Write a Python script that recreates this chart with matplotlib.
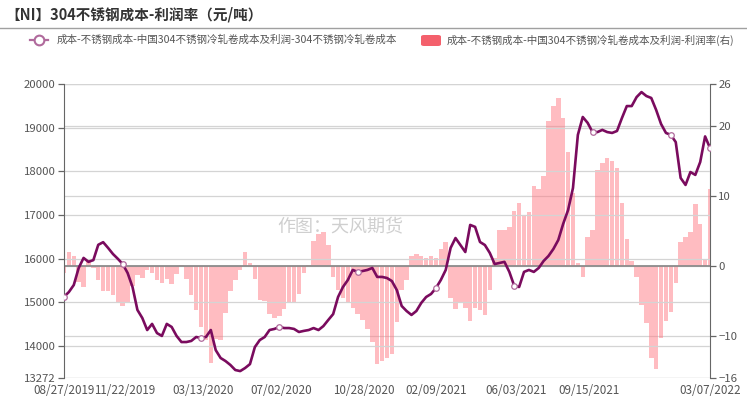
import matplotlib
matplotlib.use("Agg")
import matplotlib.pyplot as plt
from matplotlib.lines import Line2D
from matplotlib.patches import FancyBboxPatch
import pandas as pd

plt.rcParams['font.family'] = ['Noto Sans CJK SC', 'DejaVu Sans']

start_date = '2019-08-27'
end_date = '2022-03-07'

cost = [15130, 15240, 15400, 15790, 16020, 15930, 15970, 16320, 16380, 16250,
        16110, 16000, 15880, 15675, 15355, 14830, 14645, 14370, 14510, 14300,
        14235, 14510, 14440, 14235, 14095, 14095, 14120, 14210, 14190, 14210,
        14370, 13910, 13730, 13660, 13570, 13455, 13430, 13500, 13590, 13980,
        14140, 14210, 14370, 14395, 14440, 14415, 14415, 14395, 14325, 14350,
        14370, 14415, 14370, 14460, 14600, 14735, 15126, 15355, 15515, 15745,
        15700, 15720, 15745, 15790, 15585, 15585, 15560, 15490, 15285, 14920,
        14805, 14715, 14805, 14990, 15126, 15195, 15330, 15515, 15745, 16250,
        16475, 16315, 16155, 16775, 16730, 16385, 16315, 16135, 15880, 15905,
        15930, 15700, 15380, 15355, 15700, 15745, 15700, 15790, 15950, 16065,
        16225, 16430, 16800, 17115, 17620, 18835, 19245, 19110, 18900, 18900,
        18950, 18900, 18880, 18925, 19220, 19495, 19495, 19700, 19815, 19725,
        19680, 19405, 19085, 18880, 18835, 18670, 17850, 17690, 17985, 17920,
        18215, 18800, 18535]

margin = [-1, 2, 1.5, -2.3, -3, 1, -0.3, -2, -3.5, -3.5,
          -4.2, -5.3, -5.7, -5.2, -2.8, -1.3, -1.7, -0.5, -1, -2,
          -2.4, -1.9, -2.5, -1.1, 0.2, -1.9, -4.2, -6.3, -8.7, -10.6,
          -13.9, -10.4, -10.6, -6.7, -3.6, -2, -0.5, 2, 0.4, -1.8,
          -4.9, -5, -6.9, -7.4, -7.2, -6.1, -5.3, -5.2, -4, -1,
          0.2, 3.6, 4.6, 4.8, 3, -1.6, -3.4, -4.5, -5.3, -6,
          -6.8, -7.7, -9, -10.8, -14, -13.6, -13.1, -12.5, -8, -3.4,
          -2, 1.5, 1.7, 1.4, 1.2, 1.4, 1.2, 2.5, 3.5, -4.5,
          -6.1, -5.3, -6, -7.8, -6, -6.3, -7, -3.4, 1.2, 5.1,
          5.2, 5.6, 7.9, 9, 7.2, 7.7, 11.5, 11, 12.8, 20.7,
          22.8, 24, 21.2, 16.3, 10.5, 0.5, -1.5, 4.2, 5.2, 13.7,
          14.7, 15.4, 15, 14, 9, 3.8, 0.7, -1.5, -5.6, -8.2,
          -13.2, -14.7, -10.3, -7.8, -6.5, -2.4, 3.5, 4.2, 4.8, 8.8,
          6, 1, 11]

tick_dates = ['2019-08-27', '2019-11-22', '2020-03-13', '2020-07-02', '2020-10-28',
              '2021-02-09', '2021-06-03', '2021-09-15', '2022-03-07']
tick_labels = ['08/27/2019', '11/22/2019', '03/13/2020', '07/02/2020', '10/28/2020',
               '02/09/2021', '06/03/2021', '09/15/2021', '03/07/2022']
left_ticks = [13272, 14000, 15000, 16000, 17000, 18000, 19000, 20000]
right_ticks = [-16, -10, 0, 10, 20, 26]

title = '【NI】304不锈钢成本-利润率（元/吨）'
legend_line = '成本-不锈钢成本-中国304不锈钢冷轧卷成本及利润-304不锈钢冷轧卷成本'
legend_bar = '成本-不锈钢成本-中国304不锈钢冷轧卷成本及利润-利润率(右)'
watermark = '作图：天风期货'

dates = pd.date_range(start_date, end_date, periods=len(cost))

W, H = 747, 400
fig = plt.figure(figsize=(W / 100, H / 100), dpi=100)

def fx(px):
    return px / W

def fy(py):
    return 1 - py / H

ax = fig.add_axes([fx(64), fy(378), fx(710) - fx(64), fy(84) - fy(378)])
ax2 = ax.twinx()

line_color = '#7a0b5e'
bar_color = '#ff7a84'
grid_color = '#d4d4d4'
text_color = '#555555'

# bars on right axis
ax2.bar(dates, margin, width=6.4, color=bar_color, alpha=0.5, linewidth=0, zorder=2)
ax2.axhline(0, color='#8c8c8c', lw=1.3, zorder=3)
ax2.set_ylim(-16, 26)
ax2.set_yticks(right_ticks)
for t in right_ticks:
    ax2.axhline(t, color=grid_color, lw=0.9, zorder=1)

# line on left axis, drawn above bars
ax.set_zorder(ax2.get_zorder() + 1)
ax.patch.set_visible(False)
mark_idx = [0, 12, 28, 44, 60, 76, 92, 108, 124, len(cost) - 1]
ax.plot(dates, cost, color=line_color, lw=1.9, zorder=5,
        marker='o', markevery=mark_idx, markersize=4,
        markerfacecolor='white', markeredgecolor='#b06a9c', markeredgewidth=0.9)
ax.set_ylim(13272, 20000)
ax.set_yticks(left_ticks)
for t in left_ticks:
    ax.axhline(t, color=grid_color, lw=0.9, zorder=0)

ax.set_xlim(pd.Timestamp(start_date), pd.Timestamp(end_date))
ax.set_xticks(pd.to_datetime(tick_dates))
ax.set_xticklabels(tick_labels)

for a in (ax, ax2):
    for s in ('top', 'bottom'):
        a.spines[s].set_visible(False)
    a.spines['left'].set_color('#666666')
    a.spines['right'].set_color('#666666')
    a.tick_params(axis='y', colors='#666666', labelcolor=text_color,
                  labelsize=8.2, length=4, width=0.9, pad=2)
ax.spines['right'].set_visible(False)
ax2.spines['left'].set_visible(False)
ax.tick_params(axis='x', length=0, labelsize=8.4, labelcolor=text_color, pad=4)

# title and separator
fig.text(fx(5), fy(14), title, fontsize=10.5, fontweight='bold',
         color='#333333', va='center', ha='left')
fig.add_artist(Line2D([0, 1], [fy(28), fy(28)], color='#a0a0a0', lw=1.0))

# legend (manual)
fig.add_artist(Line2D([fx(30), fx(48)], [fy(40), fy(40)], color='#b06a9c', lw=1.6))
fig.add_artist(Line2D([fx(39)], [fy(40)], marker='o', markersize=7,
                      markerfacecolor='white', markeredgecolor='#b06a9c',
                      markeredgewidth=1.5, lw=0))
fig.text(fx(57), fy(40), legend_line, fontsize=7.6, color=text_color,
         va='center', ha='left')
fig.add_artist(FancyBboxPatch((fx(421), fy(46)), fx(20), fy(35) - fy(46),
                              boxstyle='round,pad=0,rounding_size=0.004',
                              facecolor='#f4606c', edgecolor='none',
                              transform=fig.transFigure))
fig.text(fx(447), fy(40), legend_bar, fontsize=7.6, color=text_color,
         va='center', ha='left')

# watermark
fig.text(fx(340), fy(227), watermark, fontsize=13, color='#cfcfcf',
         va='center', ha='center', zorder=10)

fig.savefig('out.png', dpi=100)
